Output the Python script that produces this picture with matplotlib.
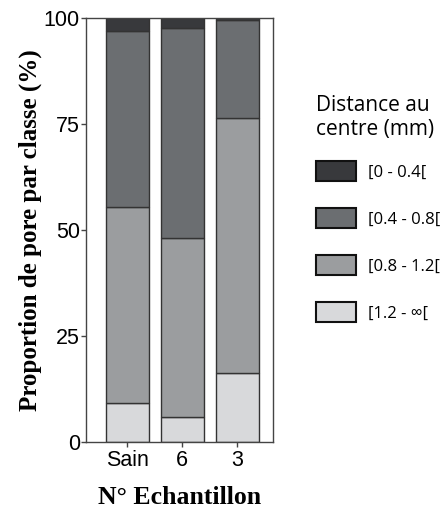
import matplotlib
matplotlib.use("Agg")
import matplotlib.pyplot as plt
import numpy as np

# Donnees (% de pores par classe de distance)
samples = ["Sain", "6", "3"]
classes = ["[1.2 - ∞[", "[0.8 - 1.2[", "[0.4 - 0.8[", "[0 - 0.4["]
v_12_inf = [9.2, 6.0, 16.3]
v_08_12 = [46.3, 42.0, 60.2]
v_04_08 = [41.5, 49.7, 23.0]
v_00_04 = [3.0, 2.3, 0.5]
colors = ["#d8d9db", "#9b9d9f", "#6b6e71", "#38393c"]

fig = plt.figure(figsize=(4.44, 5.08), dpi=100)
ax = fig.add_axes([0.1937, 0.1299, 0.4212, 0.8347])

x = np.arange(len(samples))
bottom = np.zeros(len(samples))
handles = []
for vals, col, lab in zip([v_12_inf, v_08_12, v_04_08, v_00_04], colors, classes):
    b = ax.bar(x, vals, width=0.79, bottom=bottom, color=col,
               edgecolor="#333333", linewidth=1.0, label=lab)
    handles.append(b)
    bottom += np.array(vals)

ax.set_xlim(-0.75, 2.65)
ax.set_ylim(0, 100)
ax.set_yticks([0, 25, 50, 75, 100])
ax.set_xticks(x)
ax.set_xticklabels(samples)
for s in ax.spines.values():
    s.set_color("#444444")
    s.set_linewidth(1.0)
ax.tick_params(labelsize=15.5, length=3.5, width=1, color="#444444")
ax.tick_params(axis="y", pad=1)
ax.tick_params(axis="x", pad=2)
for t in ax.get_xticklabels() + ax.get_yticklabels():
    t.set_fontfamily("Liberation Sans")

ax.set_ylabel("Proportion de pore par classe (%)", fontfamily="Liberation Serif",
              fontweight="bold", fontsize=18, labelpad=1)
ax.set_xlabel("N° Echantillon", fontfamily="Liberation Serif",
              fontweight="bold", fontsize=18.5, labelpad=11)

leg = fig.legend(handles[::-1], classes[::-1], loc="upper left",
                 bbox_to_anchor=(316 / 444, 1 - 95 / 508), frameon=False,
                 title="Distance au\ncentre (mm)", alignment="left",
                 prop={"family": "Open Sans", "size": 12},
                 title_fontproperties={"family": "Open Sans", "size": 15},
                 handlelength=2.4, handleheight=1.5, handletextpad=0.75,
                 labelspacing=1.6, borderpad=0, borderaxespad=0)
leg._legend_box.sep = 15
for p in leg.get_patches():
    p.set_edgecolor("#111111")
    p.set_linewidth(1.5)

fig.savefig("out.png", dpi=100)
